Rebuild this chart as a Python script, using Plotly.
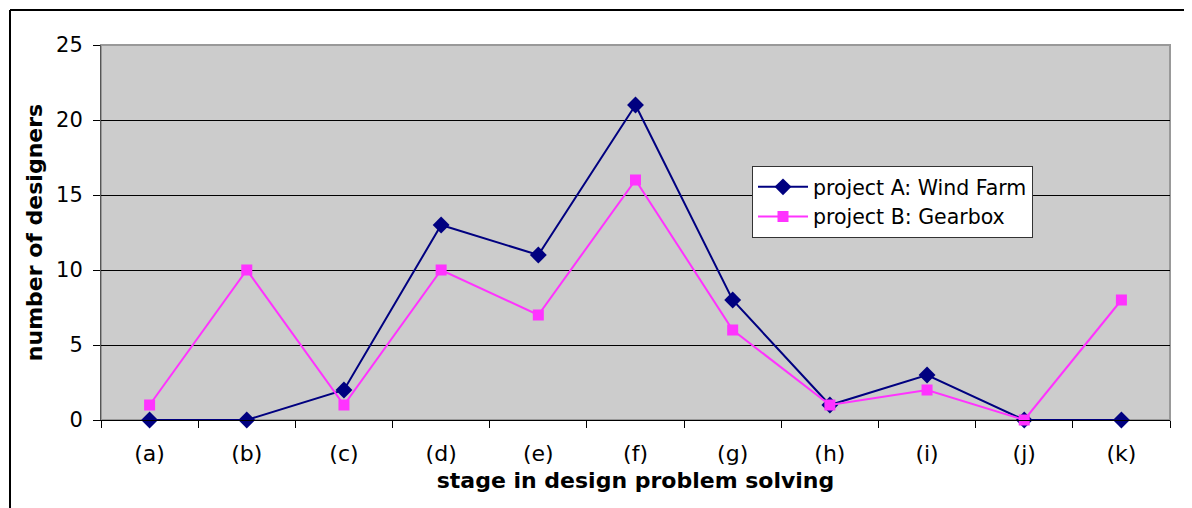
import plotly.graph_objects as go

categories = ["(a)", "(b)", "(c)", "(d)", "(e)", "(f)", "(g)", "(h)", "(i)", "(j)", "(k)"]
project_a = [0, 0, 2, 13, 11, 21, 8, 1, 3, 0, 0]
project_b = [1, 10, 1, 10, 7, 16, 6, 1, 2, 0, 8]

FONT = "DejaVu Sans, Verdana, sans-serif"

fig = go.Figure()
fig.add_trace(go.Scatter(
    x=categories, y=project_a, mode="lines+markers", name="project A: Wind Farm",
    line=dict(color="#000080", width=2),
    marker=dict(symbol="diamond", size=13, color="#000080"),
    cliponaxis=False,
))
fig.add_trace(go.Scatter(
    x=categories, y=project_b, mode="lines+markers", name="project B: Gearbox",
    line=dict(color="#FF33FF", width=2),
    marker=dict(symbol="square", size=11, color="#FF33FF"),
    cliponaxis=False,
))

# page body has an 8px margin; figure placed at (8, 8)
OFF = 8
W, H = 1192 - OFF, 508 - OFF
L = 101 - OFF
T = 45 - OFF
R = W - (1170 - OFF)
B = H - (420 - OFF)
pw = W - L - R
ph = H - T - B


def px(x):
    return (x - OFF - L) / pw


def py(y):
    return (H - B - (y - OFF)) / ph


fig.update_layout(
    width=W, height=H,
    margin=dict(l=L, r=R, t=T, b=B, pad=0),
    paper_bgcolor="white",
    plot_bgcolor="#CCCCCC",
    font=dict(family=FONT, size=20, color="black"),
    showlegend=True,
    legend=dict(
        x=px(752), y=py(166), xanchor="left", yanchor="top",
        bgcolor="white", bordercolor="#333333", borderwidth=1,
        font=dict(family=FONT, size=20.5, color="black"),
        tracegroupgap=0, itemwidth=50,
    ),
    xaxis=dict(
        type="category", range=[-0.5, 10.5],
        showgrid=False, zeroline=False,
        showline=True, linecolor="black", linewidth=1,
        ticks="outside", tickson="boundaries", ticklen=7, tickcolor="black",
        ticklabelstandoff=14,
        tickfont=dict(family=FONT, size=22),
        title=dict(text="<b>stage in design problem solving</b>", font=dict(family=FONT, size=22), standoff=7),
    ),
    yaxis=dict(
        range=[0, 25], dtick=5, tick0=0,
        showgrid=True, gridcolor="black", gridwidth=1,
        zeroline=False,
        showline=True, linecolor="#555555", linewidth=1,
        ticks="outside", ticklen=7, tickcolor="black",
        ticklabelstandoff=6,
        tickfont=dict(family=FONT, size=21),
        title=dict(text="<b>number of designers</b>", font=dict(family=FONT, size=22), standoff=7),
    ),
    shapes=[
        dict(type="rect", xref="paper", yref="paper", x0=0, x1=1, y0=0, y1=1,
             line=dict(color="#999999", width=2), layer="below"),
        dict(type="line", xref="paper", yref="paper", x0=px(10), x1=px(1200), y0=py(10), y1=py(10),
             line=dict(color="black", width=2)),
        dict(type="line", xref="paper", yref="paper", x0=px(10), x1=px(10), y0=py(10), y1=py(520),
             line=dict(color="black", width=2)),
    ],
)

fig.write_html("out.html")
